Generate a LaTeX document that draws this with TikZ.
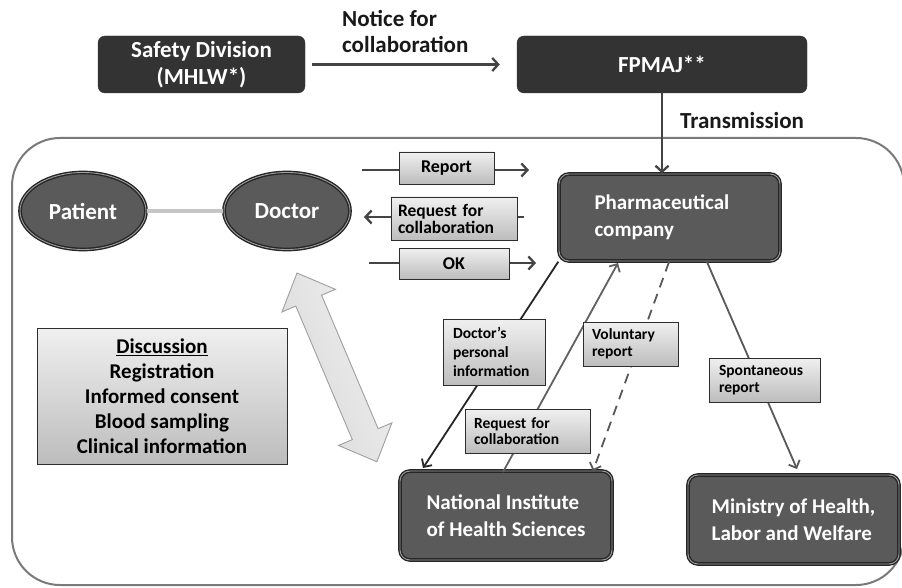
\documentclass[tikz,border=0pt]{standalone}
\usepackage{fontspec}
\setmainfont{Carlito}
\usetikzlibrary{arrows.meta,calc,shapes.geometric}
\definecolor{darkbox}{HTML}{333333}
\definecolor{midbox}{HTML}{5A5A5A}
\definecolor{lineg}{HTML}{444444}
\definecolor{frameg}{HTML}{7A7A7A}
\begin{document}
\begin{tikzpicture}[x=1pt,y=-1pt,
  topbox/.style={draw=darkbox, fill=darkbox, rounded corners=7pt, text=white,
    font=\fontsize{23}{27}\selectfont\bfseries, align=center, inner sep=0pt},
  orgbox/.style={draw=black!85, double=gray!75, double distance=0.9pt, line width=1.4pt,
    fill=midbox, rounded corners=10pt, text=white,
    font=\fontsize{21}{27}\selectfont\bfseries, align=left, inner sep=0pt},
  person/.style={ellipse, draw=black!85, double=gray!75, double distance=0.9pt, line width=1.4pt,
    fill=midbox, text=white, font=\fontsize{23}{26}\selectfont\bfseries,
    minimum width=126pt, minimum height=77pt, inner sep=0pt},
  lbl/.style={draw=gray!35!black, line width=0.9pt, top color=gray!12, bottom color=gray!52,
    inner sep=0pt, align=left, text=black},
  arr/.style={-{Straight Barb[length=6pt,width=13pt]}, line width=2.3pt, draw=lineg},
  thinarr/.style={-{Straight Barb[length=6pt,width=12pt]}, line width=1.8pt},
  plain/.style={font=\fontsize{23}{26}\selectfont\bfseries, inner sep=0pt, text=black!90}
]
\useasboundingbox (0,0) rectangle (902,588);
\fill[white] (0,0) rectangle (902,588);

% outer frame
\draw[frameg, line width=2pt, rounded corners=48pt] (12,138) rectangle (904,585);

% top boxes
\node[topbox, minimum width=207pt, minimum height=57pt] (safety) at (201.5,64.5) {Safety Division\\(MHLW*)};
\node[topbox, minimum width=290pt, minimum height=57pt] (fpmaj) at (662,64.5) {FPMAJ**};
\node[plain, anchor=north west, align=left] (notice) at (342,10) {Notice for\\collaboration};
\node[plain, anchor=west] (trans) at (680,121) {Transmission};

\draw[arr, shorten <=7pt, shorten >=17pt] (safety.east) -- (fpmaj.west);

% organisation boxes
\node[orgbox, minimum width=221pt, minimum height=87pt, text width=150pt] (pharma) at (669.5,217.5) {Pharmaceutical\\company};
\node[orgbox, minimum width=212pt, minimum height=89pt] (nihs) at (506,515.5) {National Institute\\of Health Sciences};
\node[orgbox, minimum width=211pt, minimum height=89pt] (mhlw) at (793.5,519.5) {Ministry of Health,\\Labor and Welfare};

\draw[arr] (fpmaj.south) -- (fpmaj.south |- pharma.north);

% patient and doctor
\node[person] (patient) at (83,211) {Patient};
\node[person] (doctor) at (287,211) {Doctor};
\draw[gray!45, line width=4pt] (patient) -- (doctor);

% horizontal message arrows
\coordinate (rL) at (362,170); \coordinate (rR) at (529,170);
\coordinate (qR) at (524,217); \coordinate (qL) at (364,217);
\coordinate (oL) at (369,263); \coordinate (oR) at (536,263);
\draw[arr] (rL) -- (rR);
\draw[arr] (qR) -- (qL);
\draw[arr] (oL) -- (oR);
\node[lbl, align=center, minimum width=95pt, minimum height=32pt, font=\fontsize{18}{20}\selectfont\bfseries] (report) at (446.5,168) {Report};
\node[lbl, minimum width=126pt, minimum height=43pt, text width=112pt, font=\fontsize{17.5}{17}\selectfont\bfseries] (req1) at (454,218.5) {Request for\\collaboration};
\node[lbl, align=center, minimum width=110pt, minimum height=31pt, font=\fontsize{18}{20}\selectfont\bfseries] (ok) at (454,263.5) {OK};

% sloped connectors
\coordinate (dEnd) at (423,468);
\coordinate (cStart) at (503,472);
\coordinate (cEnd) at (618,263);
\coordinate (vStart) at (669,262);
\coordinate (vEnd) at (593,471);
\coordinate (sStart) at (707,262);
\coordinate (sEnd) at (797,469);
\draw[thinarr, black!85] (pharma.south west) -- (dEnd);
\draw[thinarr, black!62] (cStart) -- (cEnd);
\draw[thinarr, black!65, dash pattern=on 10pt off 7pt] (vStart) -- (vEnd);
\draw[thinarr, black!65] (sStart) -- (sEnd);

\node[lbl, minimum width=102pt, minimum height=66pt, text width=82pt, font=\fontsize{15.5}{19}\selectfont\bfseries] (dpi) at (494,352) {Doctor’s\\personal\\information};
\node[lbl, minimum width=95pt, minimum height=44pt, text width=77pt, font=\fontsize{15.5}{17}\selectfont\bfseries] (vol) at (630.5,344) {Voluntary\\report};
\node[lbl, minimum width=111pt, minimum height=44pt, text width=91pt, font=\fontsize{15.5}{17}\selectfont\bfseries] (spon) at (764.5,380) {Spontaneous\\report};
\node[lbl, minimum width=125pt, minimum height=44pt, text width=107pt, font=\fontsize{15.5}{16}\selectfont\bfseries] (req2) at (527.5,431) {Request for\\collaboration};

% discussion box
\node[lbl, align=center, minimum width=250pt, minimum height=136pt, font=\fontsize{21}{25}\selectfont\bfseries] (disc) at (162,396)
  {\underline{Discussion}\\Registration\\Informed consent\\Blood sampling\\Clinical information};

% double arrow
\begin{scope}[shift={(297,273)}, rotate=-67.06]
  \draw[gray!75, line width=0.9pt, top color=gray!12, bottom color=gray!30, shading angle=-67]
    (0,0) -- (30,29) -- (30,14) -- (175,14) -- (175,29) -- (205,0) -- (175,-29) -- (175,-14) -- (30,-14) -- (30,-29) -- cycle;
\end{scope}
\end{tikzpicture}
\end{document}
